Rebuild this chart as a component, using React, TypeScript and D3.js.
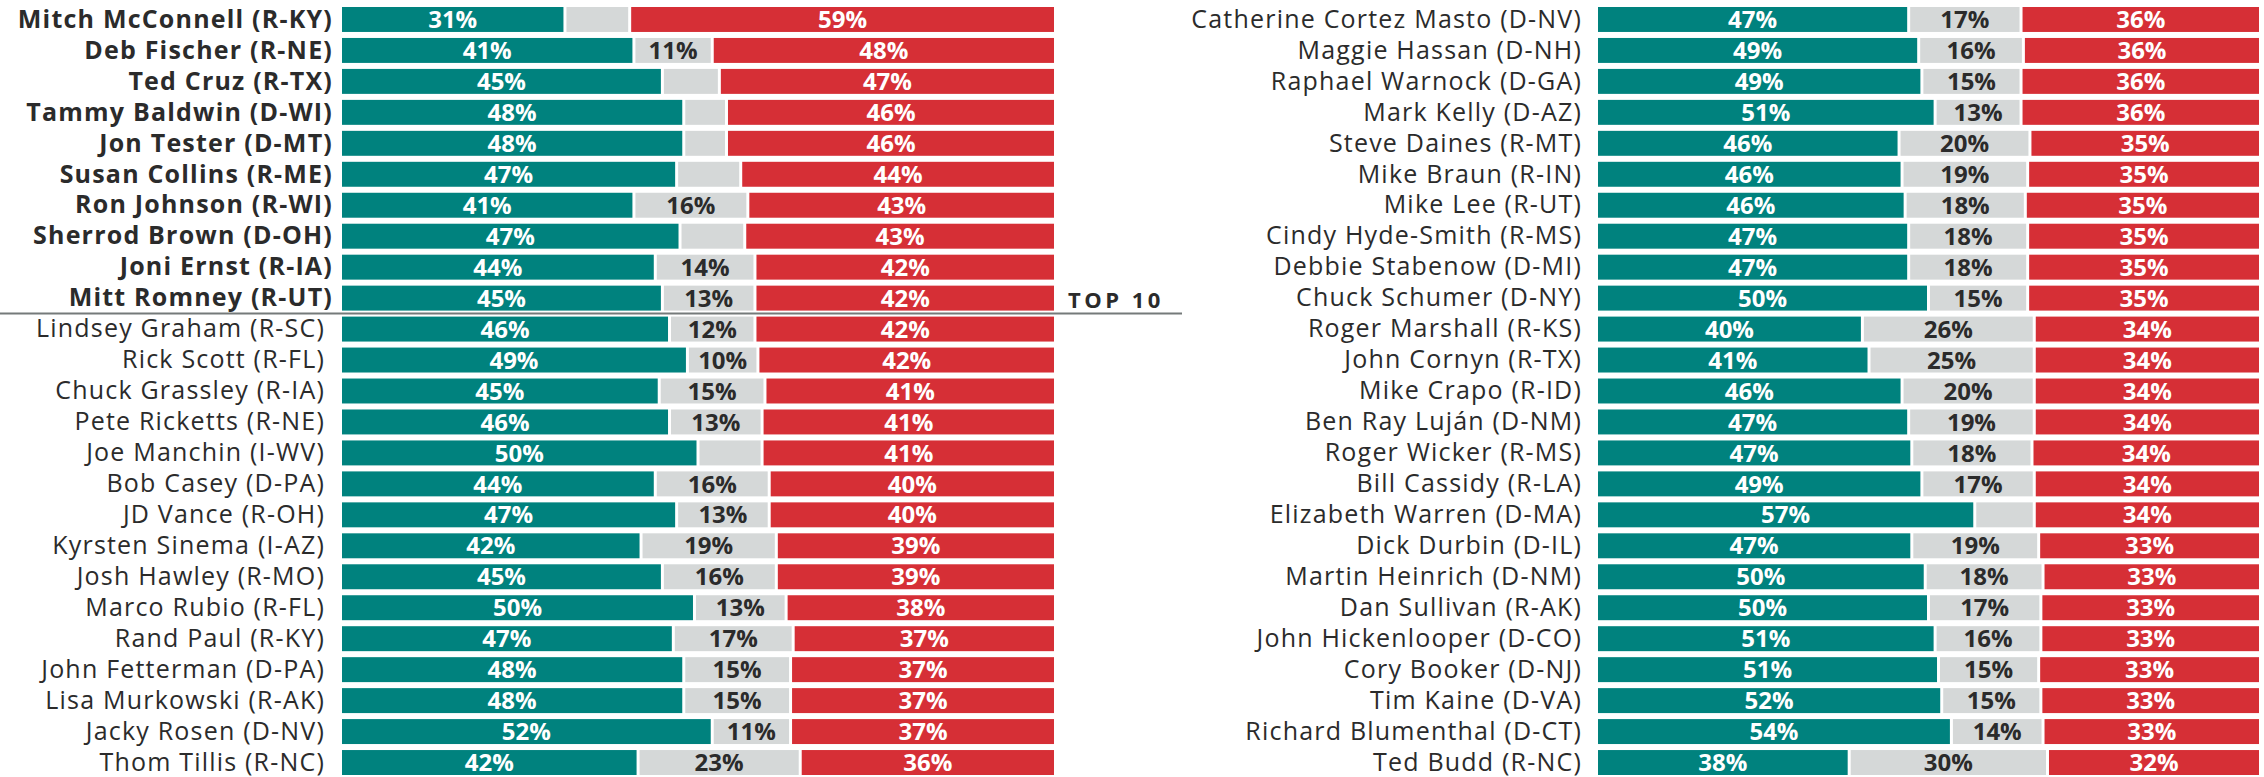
import { useMemo } from "react";
import { scaleBand, scaleLinear, stack, stackOffsetExpand } from "d3";

const totalWidth = 2264;
const totalHeight = 777;

const leftNames = [
  "Mitch McConnell (R-KY)",
  "Deb Fischer (R-NE)",
  "Ted Cruz (R-TX)",
  "Tammy Baldwin (D-WI)",
  "Jon Tester (D-MT)",
  "Susan Collins (R-ME)",
  "Ron Johnson (R-WI)",
  "Sherrod Brown (D-OH)",
  "Joni Ernst (R-IA)",
  "Mitt Romney (R-UT)",
  "Lindsey Graham (R-SC)",
  "Rick Scott (R-FL)",
  "Chuck Grassley (R-IA)",
  "Pete Ricketts (R-NE)",
  "Joe Manchin (I-WV)",
  "Bob Casey (D-PA)",
  "JD Vance (R-OH)",
  "Kyrsten Sinema (I-AZ)",
  "Josh Hawley (R-MO)",
  "Marco Rubio (R-FL)",
  "Rand Paul (R-KY)",
  "John Fetterman (D-PA)",
  "Lisa Murkowski (R-AK)",
  "Jacky Rosen (D-NV)",
  "Thom Tillis (R-NC)",
];
const leftApprove = [31, 41, 45, 48, 48, 47, 41, 47, 44, 45, 46, 49, 45, 46, 50, 44, 47, 42, 45, 50, 47, 48, 48, 52, 42];
const leftUnsure = [9, 11, 8, 6, 6, 9, 16, 9, 14, 13, 12, 10, 15, 13, 9, 16, 13, 19, 16, 13, 17, 15, 15, 11, 23];
const leftDisapprove = [59, 48, 47, 46, 46, 44, 43, 43, 42, 42, 42, 42, 41, 41, 41, 40, 40, 39, 39, 38, 37, 37, 37, 37, 36];

const rightNames = [
  "Catherine Cortez Masto (D-NV)",
  "Maggie Hassan (D-NH)",
  "Raphael Warnock (D-GA)",
  "Mark Kelly (D-AZ)",
  "Steve Daines (R-MT)",
  "Mike Braun (R-IN)",
  "Mike Lee (R-UT)",
  "Cindy Hyde-Smith (R-MS)",
  "Debbie Stabenow (D-MI)",
  "Chuck Schumer (D-NY)",
  "Roger Marshall (R-KS)",
  "John Cornyn (R-TX)",
  "Mike Crapo (R-ID)",
  "Ben Ray Luján (D-NM)",
  "Roger Wicker (R-MS)",
  "Bill Cassidy (R-LA)",
  "Elizabeth Warren (D-MA)",
  "Dick Durbin (D-IL)",
  "Martin Heinrich (D-NM)",
  "Dan Sullivan (R-AK)",
  "John Hickenlooper (D-CO)",
  "Cory Booker (D-NJ)",
  "Tim Kaine (D-VA)",
  "Richard Blumenthal (D-CT)",
  "Ted Budd (R-NC)",
];
const rightApprove = [47, 49, 49, 51, 46, 46, 46, 47, 47, 50, 40, 41, 46, 47, 47, 49, 57, 47, 50, 50, 51, 51, 52, 54, 38];
const rightUnsure = [17, 16, 15, 13, 20, 19, 18, 18, 18, 15, 26, 25, 20, 19, 18, 17, 9, 19, 18, 17, 16, 15, 15, 14, 30];
const rightDisapprove = [36, 36, 36, 36, 35, 35, 35, 35, 35, 35, 34, 34, 34, 34, 34, 34, 34, 33, 33, 33, 33, 33, 33, 33, 32];

const topCount = 10;
const keys = ["approve", "unsure", "disapprove"] as const;
const colors = { approve: "#00827e", unsure: "#d5d8d8", disapprove: "#d62f36" };
const labelColors = { approve: "#ffffff", unsure: "#2b2b2b", disapprove: "#ffffff" };
const fontFamily = "'Open Sans', Lato, sans-serif";
const segmentGap = 3;

type Row = { name: string; approve: number; unsure: number; disapprove: number };

const buildRows = (names: string[], a: number[], u: number[], d: number[]): Row[] =>
  names.map((name, i) => ({ name, approve: a[i], unsure: u[i], disapprove: d[i] }));

const Panel = ({
  rows,
  barStart,
  barEnd,
  labelEnd,
  boldLabelEnd,
  highlightTop,
}: {
  rows: Row[];
  barStart: number;
  barEnd: number;
  labelEnd: number;
  boldLabelEnd: number;
  highlightTop: boolean;
}) => {
  const { series, xScale, yScale } = useMemo(() => {
    const series = stack<Row>()
      .keys(keys as unknown as string[])
      .offset(stackOffsetExpand)(rows);
    const xScale = scaleLinear().domain([0, 1]).range([barStart, barEnd]);
    const yScale = scaleBand<number>()
      .domain(rows.map((_, i) => i))
      .range([4, 778])
      .paddingInner(0.194)
      .paddingOuter(0.097);
    return { series, xScale, yScale };
  }, [rows, barStart, barEnd]);

  const bw = yScale.bandwidth();

  return (
    <g>
      {rows.map((d, i) => {
        const bold = highlightTop && i < topCount;
        return (
          <text
            key={d.name}
            x={bold ? boldLabelEnd : labelEnd}
            y={(yScale(i) ?? 0) + bw / 2}
            dy="0.33em"
            textAnchor="end"
            fontSize={25}
            letterSpacing={1.2}
            fontWeight={bold ? 700 : 400}
            fill="#2b2b2b"
          >
            {d.name}
          </text>
        );
      })}
      {series.map((s, si) => {
        const key = s.key as (typeof keys)[number];
        return (
          <g key={key}>
            {s.map((seg, i) => {
              const x0 = xScale(seg[0]) + (si > 0 ? segmentGap / 2 : 0);
              const x1 = xScale(seg[1]) - (si < keys.length - 1 ? segmentGap / 2 : 0);
              const value = rows[i][key];
              const y = yScale(i) ?? 0;
              return (
                <g key={rows[i].name}>
                  <rect x={x0} y={y} width={Math.max(0, x1 - x0)} height={bw} fill={colors[key]} />
                  {value >= 10 && (
                    <text
                      x={(x0 + x1) / 2}
                      y={y + bw / 2}
                      dy="0.36em"
                      textAnchor="middle"
                      fontSize={24}
                      fontWeight={700}
                      fill={labelColors[key]}
                    >
                      {`${value}%`}
                    </text>
                  )}
                </g>
              );
            })}
          </g>
        );
      })}
    </g>
  );
};

export default function App() {
  const leftRows = useMemo(() => buildRows(leftNames, leftApprove, leftUnsure, leftDisapprove), []);
  const rightRows = useMemo(() => buildRows(rightNames, rightApprove, rightUnsure, rightDisapprove), []);

  const dividerY = 313.5;

  return (
    <svg
      width={totalWidth}
      height={totalHeight}
      viewBox={`0 0 ${totalWidth} ${totalHeight}`}
      style={{ position: "absolute", left: 0, top: 0, background: "#fff" }}
      fontFamily={fontFamily}
    >
      <Panel rows={leftRows} barStart={342} barEnd={1054} labelEnd={325} boldLabelEnd={333} highlightTop />
      <Panel rows={rightRows} barStart={1598} barEnd={2259} labelEnd={1582} boldLabelEnd={1582} highlightTop={false} />
      <line x1={0} x2={1182} y1={dividerY} y2={dividerY} stroke="#757a7a" strokeWidth={2} />
      <text x={1068} y={dividerY - 6} fontSize={22} fontWeight={700} letterSpacing={3.5} fill="#2b2b2b">
        TOP 10
      </text>
    </svg>
  );
}
